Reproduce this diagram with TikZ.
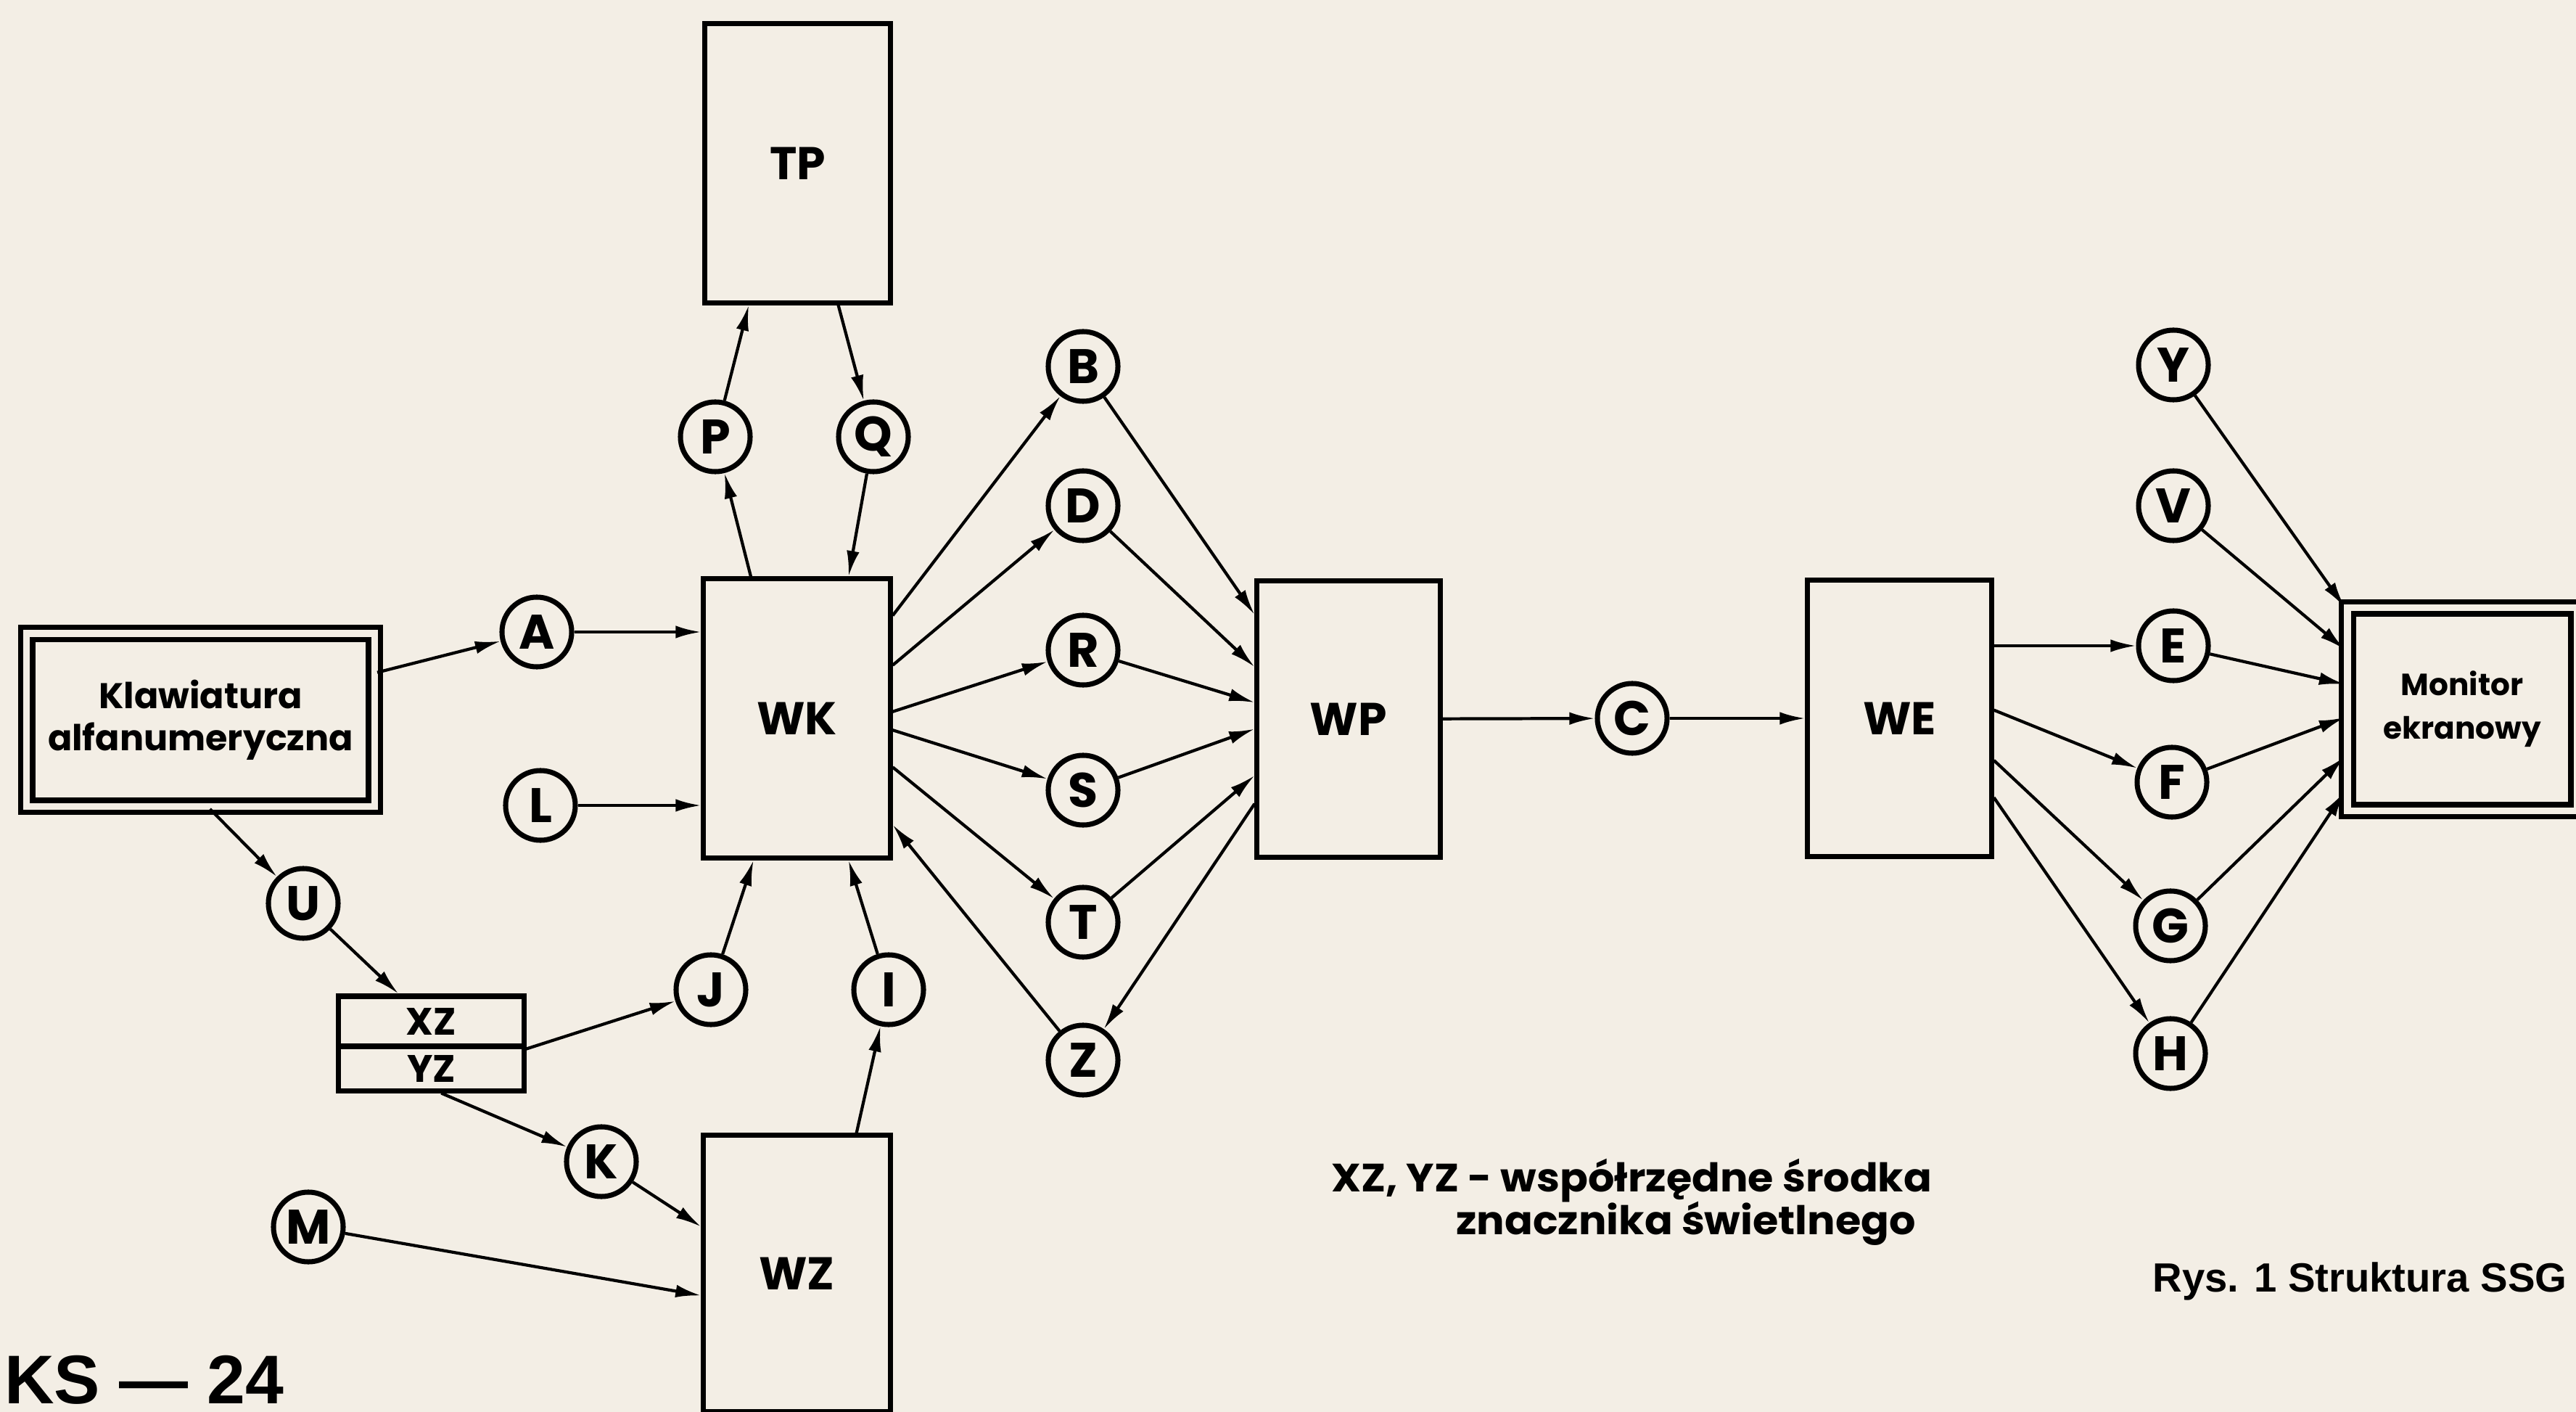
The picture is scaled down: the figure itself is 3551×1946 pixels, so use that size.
\documentclass[tikz,border=0pt]{standalone}
\usepackage{fontspec}
\setmainfont{Poppins}
\newfontfamily\legendafont{Poppins}[FakeStretch=1.05]
\newfontfamily\podpisfont{Liberation Sans}
\usetikzlibrary{arrows.meta}
\definecolor{papier}{RGB}{243,238,229}

\begin{document}
\begin{tikzpicture}[x=0.01cm, y=-0.01cm,
  blok/.style={draw, line width=2pt, inner sep=0pt, font=\fontsize{18}{20}\selectfont\bfseries},
  sygnal/.style={draw, circle, line width=2pt, minimum size=0.96cm, inner sep=0pt, font=\fontsize{19}{21}\selectfont\bfseries},
  ramka/.style={draw, line width=2.2pt, double=papier, double distance=2.6pt, inner sep=0pt, align=center},
  polacz/.style={line width=1.2pt, -{Latex[length=10pt,width=5pt]}}]
\fill[papier] (0,0) rectangle (3551,1946);
\path[use as bounding box] (0,0) rectangle (3551,1946);

\node[ramka, minimum width=4.79cm, minimum height=2.38cm, font=\fontsize{14}{16.5}\selectfont\bfseries] (klaw) at (276.5,992) {Klawiatura\\alfanumeryczna};
\node[ramka, minimum width=3.16cm, minimum height=2.79cm, font=\fontsize{12}{17}\selectfont\bfseries] (monitor) at (3394,977.5) {Monitor\\ekranowy};

\node[blok, minimum width=2.55cm, minimum height=3.84cm] (TP) at (1099.5,225) {TP};
\node[blok, minimum width=2.57cm, minimum height=3.84cm] (WK) at (1098.5,990) {WK};
\node[blok, minimum width=2.57cm, minimum height=3.80cm] (WZ) at (1098.5,1755) {WZ};
\node[blok, minimum width=2.52cm, minimum height=3.81cm] (WP) at (1859,991) {WP};
\node[blok, minimum width=2.53cm, minimum height=3.81cm] (WE) at (2618.5,990) {WE};
\node[blok, minimum width=2.55cm, minimum height=0.69cm, font=\fontsize{15}{17}\selectfont\bfseries] (XZ) at (594.5,1407.5) {XZ};
\node[blok, minimum width=2.55cm, minimum height=0.61cm, font=\fontsize{15}{17}\selectfont\bfseries] (YZ) at (594.5,1472.5) {YZ};

\node[sygnal] (A) at (740,871) {A};
\node[sygnal] (L) at (745,1110) {L};
\node[sygnal] (U) at (418,1245) {U};
\node[sygnal] (J) at (980,1364) {J};
\node[sygnal] (I) at (1225,1364) {I};
\node[sygnal] (K) at (829,1601) {K};
\node[sygnal] (M) at (425,1691) {M};
\node[sygnal] (P) at (986,602) {P};
\node[sygnal] (Q) at (1204,602) {Q};
\node[sygnal] (B) at (1493,505) {B};
\node[sygnal] (D) at (1493,697) {D};
\node[sygnal] (R) at (1493,896) {R};
\node[sygnal] (S) at (1493,1089) {S};
\node[sygnal] (T) at (1493,1271) {T};
\node[sygnal] (Z) at (1493,1461) {Z};
\node[sygnal] (C) at (2250,990) {C};
\node[sygnal] (Y) at (2996,503) {Y};
\node[sygnal] (V) at (2996,697) {V};
\node[sygnal] (E) at (2996,890) {E};
\node[sygnal] (F) at (2994,1078) {F};
\node[sygnal] (G) at (2992,1276) {G};
\node[sygnal] (H) at (2992,1452) {H};

\draw[polacz] (klaw.15) -- (A);
\draw[polacz] (klaw.-84) -- (U);
\draw[polacz] (U) -- (XZ.140);
\draw[polacz] (XZ.south east) -- (J);
\draw[polacz] (YZ.-68) -- (K);
\draw[polacz] (K) -- (WZ.154);
\draw[polacz] (M) -- (WZ.193);
\draw[polacz] (WZ.67) -- (I);
\draw[polacz] (I) -- (WK.290);
\draw[polacz] (J) -- (WK.253);
\draw[polacz] (A) -- (A -| WK.west);
\draw[polacz] (L) -- (L -| WK.west);
\draw[polacz] (WK.108) -- (P);
\draw[polacz] (P) -- (TP.-109);
\draw[polacz] (TP.-74) -- (Q);
\draw[polacz] (Q) -- (WK.70);

\draw[polacz] (WK.47) -- (B);
\draw[polacz] (WK.29) -- (D);
\draw[polacz] (WK.4) -- (R);
\draw[polacz] (WK.-7) -- (S);
\draw[polacz] (WK.-27) -- (T);
\draw[polacz] (Z) -- (WK.-48);
\draw[polacz] (B) -- (WP.132);
\draw[polacz] (D) -- (WP.151);
\draw[polacz] (R) -- (WP.170);
\draw[polacz] (S) -- (WP.186);
\draw[polacz] (T) -- (WP.211);
\draw[polacz] (WP.222) -- (Z);

\draw[polacz] (WP) -- (C);
\draw[polacz] (C) -- (WE);
\draw[polacz] (E -| WE.east) -- (E);
\draw[polacz] (WE.5) -- (F);
\draw[polacz] (WE.-24) -- (G);
\draw[polacz] (WE.-40) -- (H);

\draw[polacz] (Y) -- (monitor.139);
\draw[polacz] (V) -- (monitor.153);
\draw[polacz] (E) -- (monitor.168);
\draw[polacz] (F) -- (monitor.184);
\draw[polacz] (G) -- (monitor.202);
\draw[polacz] (H) -- (monitor.215);

\node[anchor=west, font=\legendafont\fontsize{15.5}{18}\selectfont\bfseries] (leg1) at (1823,1627) {XZ, YZ - współrzędne środka};
\node[anchor=west, font=\legendafont\fontsize{15.5}{18}\selectfont\bfseries] (leg2) at (1995,1686) {znacznika świetlnego};
\node[anchor=west, font=\podpisfont\fontsize{16}{18}\selectfont\bfseries] (rys) at (2955,1766) {Rys. 1 Struktura SSG};
\node[anchor=base west, inner sep=0pt, outer sep=0pt, font=\podpisfont\fontsize{27}{30}\selectfont\bfseries] (ks) at (6,1934) {KS — 24};
\end{tikzpicture}
\end{document}
